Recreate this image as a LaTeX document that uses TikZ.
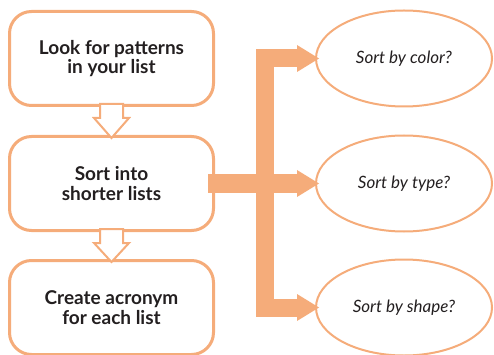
\documentclass[tikz,border=0pt]{standalone}
\usepackage{fontspec}
\setmainfont{Lato}
\usetikzlibrary{calc,arrows.meta,positioning,shapes.geometric}
\definecolor{stepline}{RGB}{245,172,122}
\definecolor{inktext}{RGB}{35,31,32}
\tikzset{
  stepbox/.style  = {draw=stepline, line width=3pt, rounded corners=22pt, fill=white,
                     minimum width=204pt, minimum height=94pt, align=center,
                     text=inktext, font=\bfseries\fontsize{19}{19.5}\selectfont},
  question/.style = {ellipse, draw=stepline, line width=2pt, fill=white,
                     minimum width=176pt, minimum height=96pt,
                     text=inktext, font=\itshape\fontsize{17}{19}\selectfont},
  hollow/.style   = {draw=stepline, fill=white, line width=2pt, line join=miter},
  fatline/.style  = {draw=stepline, line width=18pt, line join=miter},
  fatarrow/.style = {fatline, shorten >=-4pt,
                     -{Triangle[length=22pt,width=27pt,line width=0pt]}}
}

\begin{document}
\begin{tikzpicture}[x=1pt, y=-1pt]
  \useasboundingbox (0,0) rectangle (494,355);

  % Steps on the left
  \node[stepbox] (look) at (111.5,58.5) {Look for patterns\\in your list};
  \node[stepbox, below=28pt of look] (sort) {Sort into\\shorter lists};
  \node[stepbox, below=27pt of sort] (acro) {Create acronym\\for each list};

  % Questions on the right
  \node[question, right=100pt of look] (colorq) {Sort by color?};
  \node[question, right=100pt of sort] (typeq) {Sort by type?};
  \node[question, right=100pt of acro] (shapeq) {Sort by shape?};

  % Hollow arrows between the steps
  \foreach \a/\b in {look/sort, sort/acro}{
    \draw[hollow] let \p1 = (\a.south), \p2 = (\b.north) in
      (\x1-11.5pt,\y1+3pt) -- (\x1-11.5pt,\y1-11pt) -- (\x1-17.5pt,\y1-11pt)
      -- (\x1,\y2-3pt) -- (\x1+17.5pt,\y1-11pt) -- (\x1+11.5pt,\y1-11pt)
      -- (\x1+11.5pt,\y1+3pt) -- cycle;
  }

  % Fat fork from the middle step to the questions
  \coordinate (fork) at ($(sort.east)!0.5!(typeq.west)$);
  \draw[fatarrow, shorten <=-7pt] (sort.east) -- (typeq.west);
  \draw[fatarrow] (fork |- shapeq.west) -- (fork |- colorq.west) -- (colorq.west);
  \draw[fatarrow] ([xshift=-9pt]fork |- shapeq.west) -- (shapeq.west);
\end{tikzpicture}
\end{document}
